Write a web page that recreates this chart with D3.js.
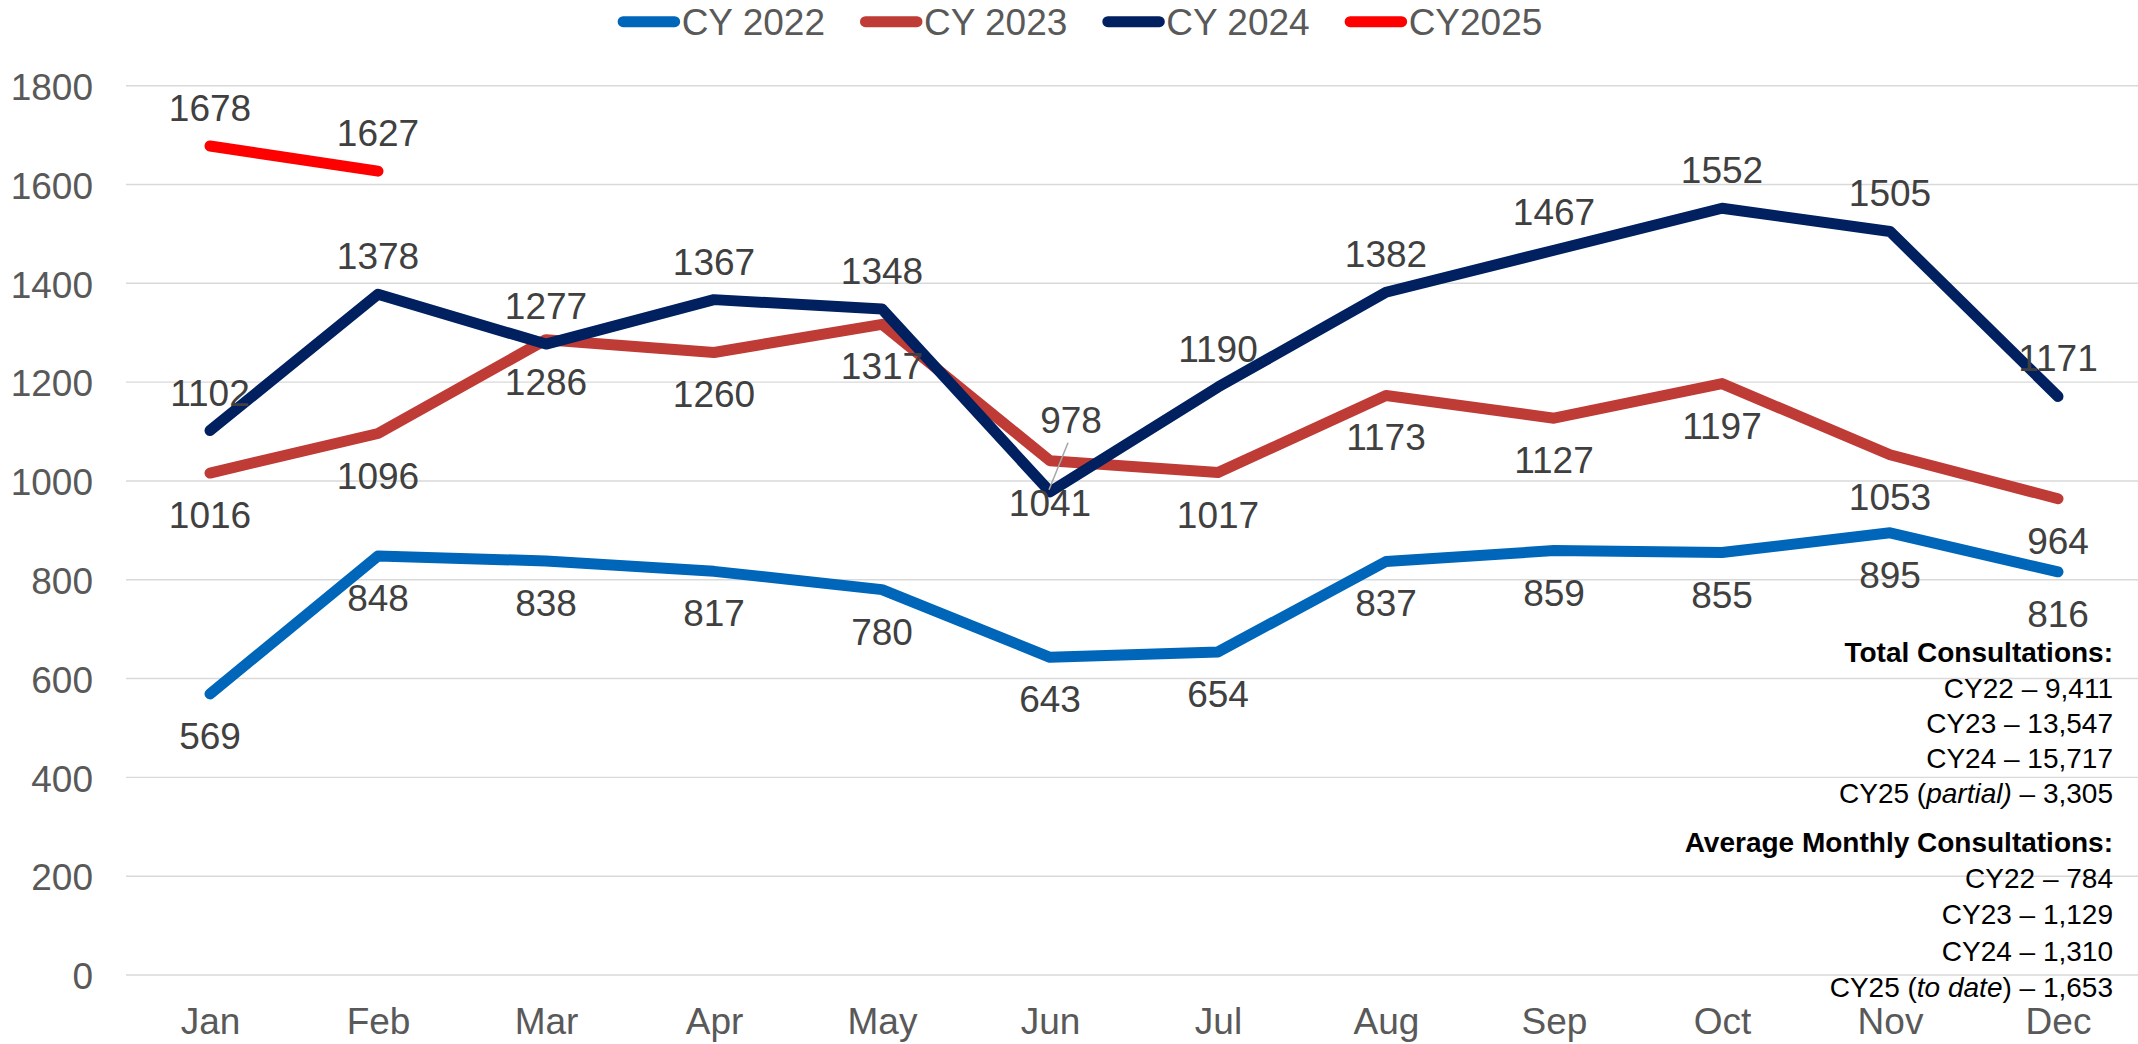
<!DOCTYPE html>
<html>
<head>
<meta charset="utf-8">
<script src="https://cdn.jsdelivr.net/npm/d3@7"></script>
<style>
  body { margin: 0; background: #fff; }
  svg { display: block; font-family: "Liberation Sans", Arial, sans-serif; }
</style>
</head>
<body>
<div class="chart"></div>
<script>
// Data
const months = ["Jan", "Feb", "Mar", "Apr", "May", "Jun", "Jul", "Aug", "Sep", "Oct", "Nov", "Dec"];
const cy2022 = [569, 848, 838, 817, 780, 643, 654, 837, 859, 855, 895, 816];
const cy2023 = [1016, 1096, 1286, 1260, 1317, 1041, 1017, 1173, 1127, 1197, 1053, 964];
const cy2024 = [1102, 1378, 1277, 1367, 1348, 978, 1190, 1382, 1467, 1552, 1505, 1171];
const cy2025 = [1678, 1627];
const seriesNames = ["CY 2022", "CY 2023", "CY 2024", "CY2025"];
const yTicks = [0, 200, 400, 600, 800, 1000, 1200, 1400, 1600, 1800];

// text box lines, middle part of a 3-part line is italic
const totalLines = [
  ["CY22 – 9,411"],
  ["CY23 – 13,547"],
  ["CY24 – 15,717"],
  ["CY25 (", "partial)", " – 3,305"]
];
const averageLines = [
  ["CY22 – 784"],
  ["CY23 – 1,129"],
  ["CY24 – 1,310"],
  ["CY25 (", "to date", ") – 1,653"]
];

const colors = ["#0066ba", "#bf3b36", "#002060", "#ff0000"];
const labelSide = ["below", "below", "above", "above"];

const W = 2138, H = 1044;
const plot = {left: 126, right: 2142, top: 85.7, bottom: 975};
const fontSize = "37px";

const svg = d3.select(".chart").append("svg")
    .attr("width", W)
    .attr("height", H);

const x = d3.scalePoint().domain(months).range([plot.left, plot.right]).padding(0.5);
const y = d3.scaleLinear().domain([0, 1800]).range([plot.bottom, plot.top]);

// gridlines
svg.append("g")
  .selectAll("line")
  .data(yTicks)
  .join("line")
    .attr("x1", plot.left)
    .attr("x2", W)
    .attr("y1", d => y(d))
    .attr("y2", d => y(d))
    .attr("stroke", "#d9d9d9")
    .attr("stroke-width", 1.4);

// y axis
const yAxis = svg.append("g")
    .attr("transform", "translate(" + plot.left + ",0)")
    .call(d3.axisLeft(y).tickValues(yTicks).tickFormat(d3.format("d")).tickSize(0).tickPadding(33));
yAxis.select(".domain").remove();
yAxis.selectAll("text")
    .attr("dy", "0.37em")
    .style("font-size", fontSize)
    .style("font-family", "'Liberation Sans', Arial, sans-serif")
    .attr("fill", "#595959");

// x axis
const xAxis = svg.append("g")
    .attr("transform", "translate(0," + plot.bottom + ")")
    .call(d3.axisBottom(x).tickSize(0).tickPadding(33));
xAxis.select(".domain").remove();
xAxis.selectAll("text")
    .style("font-size", fontSize)
    .style("font-family", "'Liberation Sans', Arial, sans-serif")
    .attr("fill", "#595959");

// lines
const allSeries = [cy2022, cy2023, cy2024, cy2025].map((vals, i) => ({
  name: seriesNames[i],
  color: colors[i],
  side: labelSide[i],
  points: vals.map((v, j) => ({month: months[j], value: v}))
}));

const line = d3.line()
  .x(d => x(d.month))
  .y(d => y(d.value));

svg.append("g")
  .selectAll("path")
  .data(allSeries)
  .join("path")
    .attr("fill", "none")
    .attr("stroke", d => d.color)
    .attr("stroke-width", 11)
    .attr("stroke-linecap", "round")
    .attr("stroke-linejoin", "round")
    .attr("d", d => line(d.points));

// data labels
const labels = svg.append("g")
    .style("font-size", fontSize)
    .attr("fill", "#404040")
    .attr("text-anchor", "middle");

allSeries.forEach(s => {
  s.points.forEach(p => {
    let lx = x(p.month);
    let ly = s.side === "above" ? y(p.value) - 25 : y(p.value) + 55;
    // the Jun CY 2024 label was dragged up and right, with a leader line
    if (s.name === "CY 2024" && p.month === "Jun") {
      lx += 21;
      ly = y(p.value) - 59;
      labels.append("line")
        .attr("x1", x(p.month) + 18)
        .attr("y1", ly + 10)
        .attr("x2", x(p.month) - 1)
        .attr("y2", y(p.value) - 2)
        .attr("stroke", "#a6a6a6")
        .attr("stroke-width", 1.5);
    }
    labels.append("text")
      .attr("x", lx)
      .attr("y", ly)
      .text(p.value);
  });
});

// legend
const legend = svg.append("g");
let lxPos = 0;
allSeries.forEach(s => {
  const item = legend.append("g").attr("transform", "translate(" + lxPos + ",0)");
  item.append("line")
    .attr("x1", 5.5).attr("x2", 57)
    .attr("y1", 21.7).attr("y2", 21.7)
    .attr("stroke", s.color)
    .attr("stroke-width", 11)
    .attr("stroke-linecap", "round");
  const t = item.append("text")
    .attr("x", 64)
    .attr("y", 35)
    .style("font-size", fontSize)
    .attr("fill", "#595959")
    .text(s.name);
  lxPos += 64 + t.node().getComputedTextLength() + 35;
});
const legendWidth = lxPos - 35;
legend.attr("transform", "translate(" + (1080 - legendWidth / 2) + ",0)");

// summary text box
const box = svg.append("g")
    .attr("text-anchor", "end")
    .style("font-size", "28px")
    .attr("fill", "#000");

function addLine(parts, yPos, bold) {
  const t = box.append("text").attr("x", 2113).attr("y", yPos);
  if (bold) t.style("font-weight", "bold");
  parts.forEach((p, i) => {
    t.append("tspan")
      .style("font-style", i === 1 ? "italic" : "normal")
      .text(p);
  });
}

addLine(["Total Consultations:"], 661.7, true);
totalLines.forEach((l, i) => addLine(l, 697.7 + i * 35.2, false));
addLine(["Average Monthly Consultations:"], 851.7, true);
averageLines.forEach((l, i) => addLine(l, 888.3 + i * 36.1, false));
</script>
</body>
</html>
